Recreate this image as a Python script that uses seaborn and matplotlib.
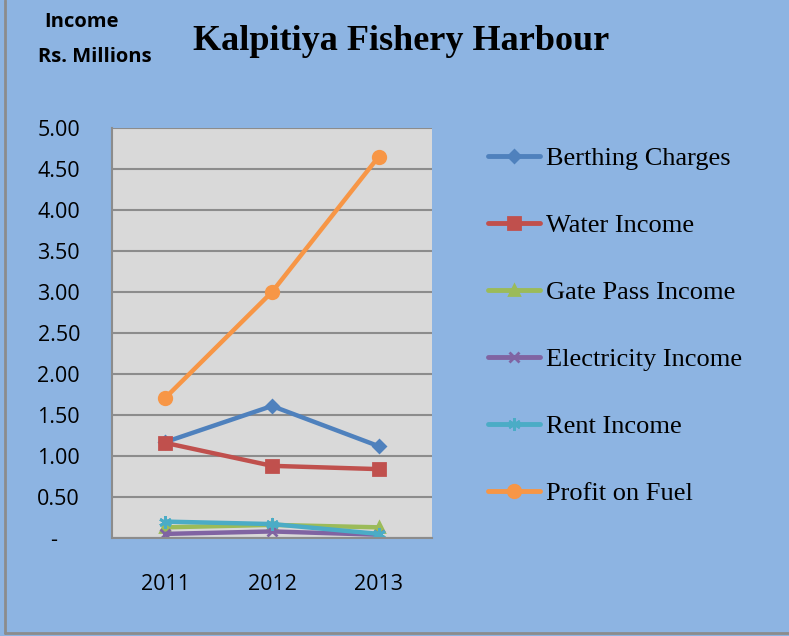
import matplotlib
matplotlib.use("Agg")
import matplotlib.pyplot as plt
import seaborn as sns
from matplotlib.lines import Line2D
from matplotlib.ticker import FuncFormatter, MultipleLocator

years = ["2011", "2012", "2013"]
berthing = [1.17, 1.61, 1.12]
water = [1.16, 0.88, 0.84]
gate_pass = [0.13, 0.16, 0.13]
electricity = [0.05, 0.08, 0.04]
rent = [0.20, 0.17, 0.05]
fuel = [1.71, 3.00, 4.65]

series_names = ["Berthing Charges", "Water Income", "Gate Pass Income",
                "Electricity Income", "Rent Income", "Profit on Fuel"]
series_values = [berthing, water, gate_pass, electricity, rent, fuel]
colors = ["#4F81BD", "#C0504D", "#9BBB59", "#8064A2", "#4BACC6", "#F79646"]
markers = ["D", "s", "^", "x", (6, 2, 0), "o"]
marker_sizes = [6, 8, 7, 7, 9, 9]

BG = "#8DB4E2"

sns.set_style("white")
plt.rcParams["font.family"] = ["Open Sans", "DejaVu Sans"]
plt.rcParams["text.color"] = "black"

fig = plt.figure(figsize=(7.89, 6.36), dpi=100, facecolor=BG)
ax = fig.add_axes([112 / 789, 98 / 636, 320 / 789, 410 / 636])
ax.set_facecolor("#D9D9D9")

for name, vals, c, m, ms in zip(series_names, series_values, colors, markers, marker_sizes):
    sns.lineplot(x=years, y=vals, ax=ax, color=c, marker=m, markersize=ms,
                 markeredgecolor=c, markeredgewidth=2, linewidth=3.2, label=name,
                 sort=False)

ax.set_xlim(-0.5, 2.5)
ax.set_ylim(0, 5)
ax.yaxis.set_major_locator(MultipleLocator(0.5))
ax.yaxis.set_major_formatter(FuncFormatter(lambda v, _: "-    " if abs(v) < 1e-9 else f"{v:.2f}"))
ax.grid(axis="y", color="#8C8C8C", linewidth=1.5)
ax.set_axisbelow(True)
ax.tick_params(axis="both", length=0, labelsize=15.5, colors="black")
ax.tick_params(axis="y", pad=23)
ax.tick_params(axis="x", pad=26)
ax.set_xlabel("")
ax.set_ylabel("")

for side in ["top", "right"]:
    ax.spines[side].set_visible(False)
for side in ["left", "bottom"]:
    ax.spines[side].set_color("#8C8C8C")
    ax.spines[side].set_linewidth(1.5)

leg = ax.legend(loc="upper left", bbox_to_anchor=(477 / 789, 1 - 136 / 636),
                bbox_transform=fig.transFigure, frameon=False,
                prop={"family": "Liberation Serif", "size": 19},
                handlelength=2.0, handletextpad=0.2, labelspacing=1.65,
                borderaxespad=0)
for line in leg.get_lines():
    line.set_linewidth(3.5)
for t in leg.get_texts():
    t.set_color("black")

fig.text(401 / 789, 1 - 42 / 636, "Kalpitiya Fishery Harbour", ha="center", va="center",
         fontsize=26, fontweight="bold", family="Liberation Serif", color="black")
fig.text(81 / 789, 1 - 22 / 636, "Income", ha="center", va="center",
         fontsize=14.5, fontweight="bold", color="black")
fig.text(95 / 789, 1 - 57 / 636, "Rs. Millions", ha="center", va="center",
         fontsize=14.5, fontweight="bold", color="black")

# outer frame on left and bottom edges
fig.add_artist(Line2D([5 / 789, 5 / 789], [3 / 636, 1], transform=fig.transFigure,
                      color="#8C8C8C", linewidth=2))
fig.add_artist(Line2D([5 / 789, 1], [3 / 636, 3 / 636], transform=fig.transFigure,
                      color="#8C8C8C", linewidth=2))

fig.savefig("out.png", dpi=100, facecolor=BG)
